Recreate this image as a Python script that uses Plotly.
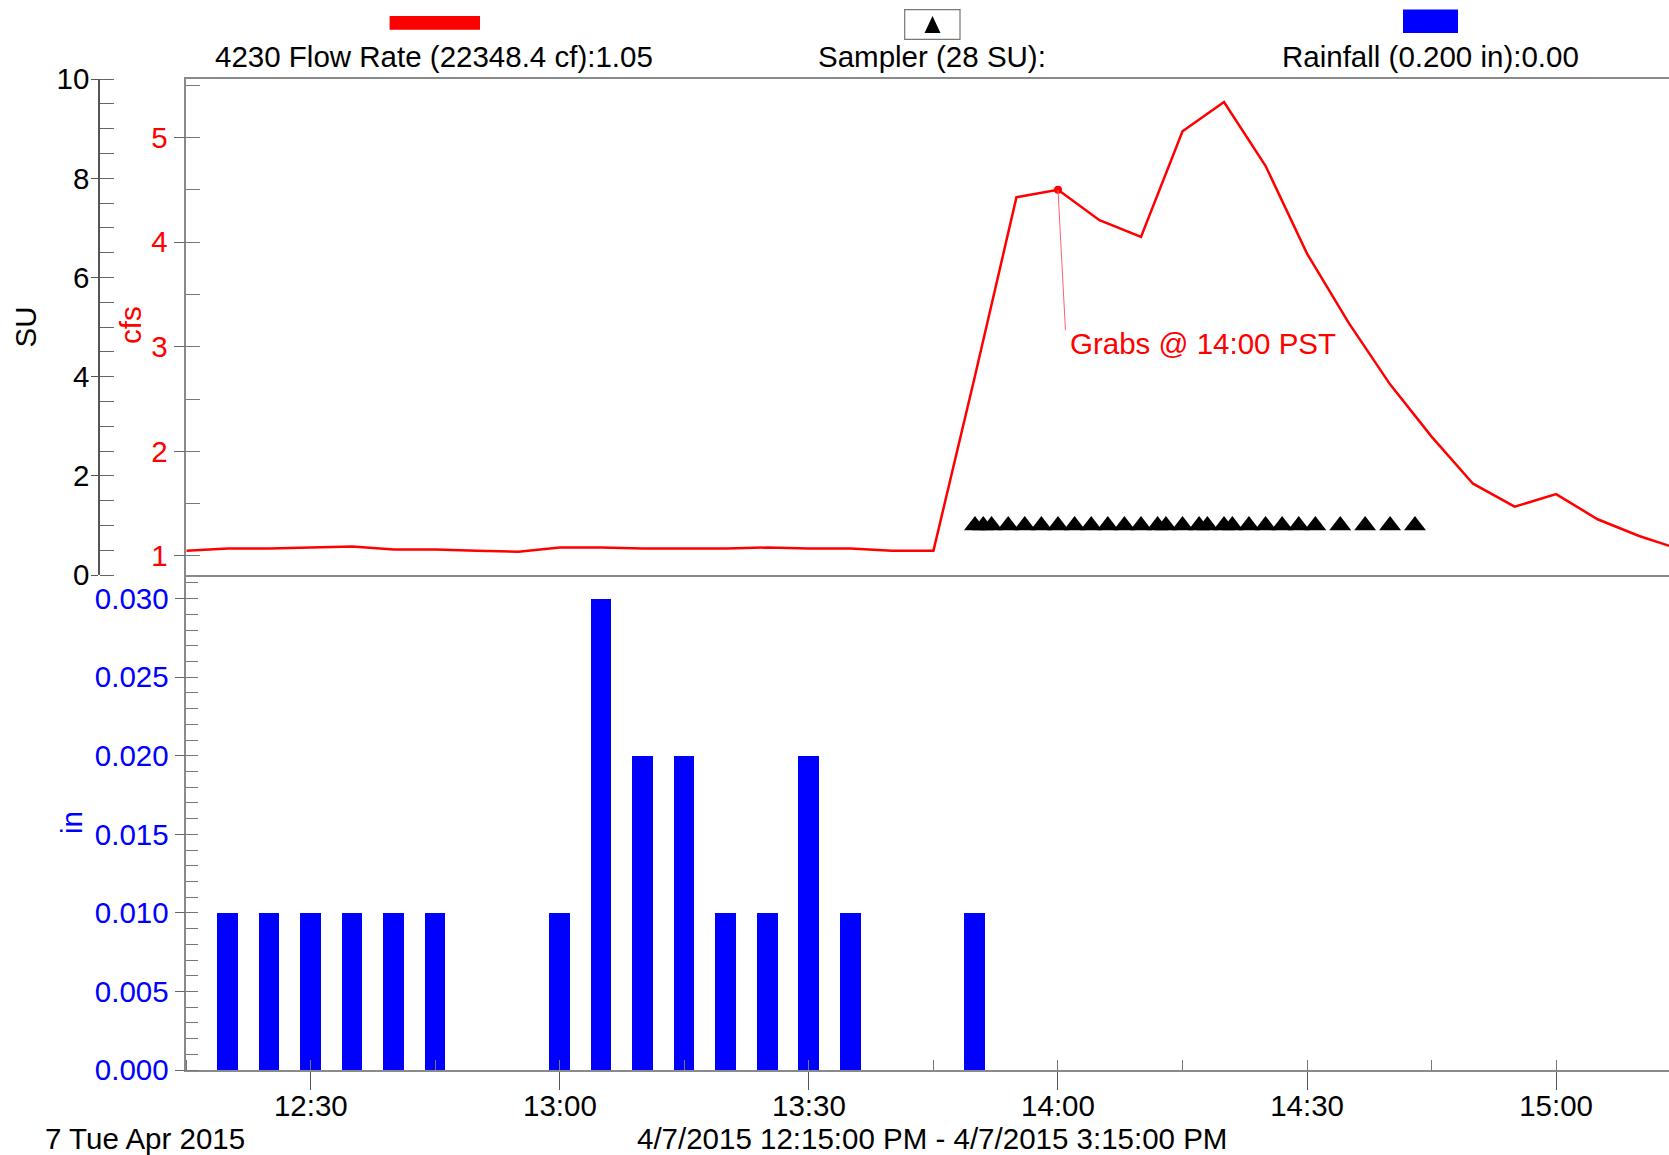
import plotly.graph_objects as go

W, H = 1669, 1155
DAY = "2015-04-07 "

# ---------------- data ----------------
flow_times = ["12:15", "12:20", "12:25", "12:30", "12:35", "12:40", "12:45", "12:50",
              "12:55", "13:00", "13:05", "13:10", "13:15", "13:20", "13:25", "13:30",
              "13:35", "13:40", "13:45", "13:50", "13:55", "14:00", "14:05", "14:10",
              "14:15", "14:20", "14:25", "14:30", "14:35", "14:40", "14:45", "14:50",
              "14:55", "15:00", "15:05", "15:10", "15:15"]
flow_cfs = [1.05, 1.07, 1.07, 1.08, 1.09, 1.06, 1.06, 1.05,
            1.04, 1.08, 1.08, 1.07, 1.07, 1.07, 1.08, 1.07,
            1.07, 1.05, 1.05, 2.72, 4.43, 4.50, 4.21, 4.05,
            5.06, 5.34, 4.73, 3.89, 3.23, 2.64, 2.14, 1.69,
            1.47, 1.59, 1.35, 1.19, 1.06]

rain_times = ["12:20", "12:25", "12:30", "12:35", "12:40", "12:45", "13:00", "13:05",
              "13:10", "13:15", "13:20", "13:25", "13:30", "13:35", "13:50"]
rain_in = [0.010, 0.010, 0.010, 0.010, 0.010, 0.010, 0.010, 0.030,
           0.020, 0.020, 0.010, 0.010, 0.020, 0.010, 0.010]

sampler_times = ["13:50", "13:51", "13:52", "13:54", "13:56", "13:58", "14:00", "14:02",
                 "14:04", "14:06", "14:08", "14:10", "14:12", "14:13", "14:15", "14:17",
                 "14:18", "14:20", "14:21", "14:23", "14:25", "14:27", "14:29", "14:31",
                 "14:34", "14:37", "14:40", "14:43"]
sampler_su = [1.0, 1.0, 1.0, 1.0, 1.0, 1.0, 1.0, 1.0, 1.0, 1.0, 1.0, 1.0, 1.0, 1.0,
              1.0, 1.0, 1.0, 1.0, 1.0, 1.0, 1.0, 1.0, 1.0, 1.0, 1.0, 1.0, 1.0, 1.0]

grab_time = "14:00"

x_tick_vals = ["12:30", "13:00", "13:30", "14:00", "14:30", "15:00"]
x_tick_text = ["12:30", "13:00", "13:30", "14:00", "14:30", "15:00"]
in_tick_vals = [0.000, 0.005, 0.010, 0.015, 0.020, 0.025, 0.030]
cfs_tick_vals = [1, 2, 3, 4, 5]
su_tick_vals = [0, 2, 4, 6, 8, 10]

# ---------------- helpers ----------------
def ts(t):
    return DAY + t + ":00"

def px(x):
    return x / W

def py(y):
    return 1 - y / H

FONT = "Liberation Sans, Arial, sans-serif"
FS = 29.5
RED = "#ff0000"
BLUE = "#0000ff"
FRAME = "#8a8a8a"

x_left = 186.3
x_dom = [px(x_left), 1.0]
y_bottom_dom = [py(1070), py(575)]
y_top_dom = [py(575), py(79)]
x_range = [ts("12:15"), DAY + "15:13:36"]
in_range = [0, 0.0315]
cfs_range = [0.817, 5.56]
su_range = [0, 10]

fig = go.Figure()

# rainfall bars (bottom panel)
fig.add_trace(go.Bar(
    x=[ts(t) for t in rain_times], y=rain_in, width=150000,
    marker=dict(color=BLUE, line=dict(width=0)),
    xaxis="x", yaxis="y", showlegend=False))

# flow line (top panel, cfs)
fig.add_trace(go.Scatter(
    x=[ts(t) for t in flow_times], y=flow_cfs, mode="lines",
    line=dict(color=RED, width=2.5),
    xaxis="x2", yaxis="y2", showlegend=False))

# grab point
gi = flow_times.index(grab_time)
fig.add_trace(go.Scatter(
    x=[ts(flow_times[gi])], y=[flow_cfs[gi]], mode="markers",
    marker=dict(color=RED, size=8),
    xaxis="x2", yaxis="y2", showlegend=False))

# sampler triangles (SU axis)
fig.add_trace(go.Scatter(
    x=[ts(t) for t in sampler_times], y=sampler_su, mode="markers",
    marker=dict(symbol="triangle-up", color="black", size=19, line=dict(width=0)),
    xaxis="x2", yaxis="y3", showlegend=False))

common_tick_font = dict(family=FONT, size=FS, color="black")

def inner_ticks(**kw):
    d = dict(showticklabels=False, ticks="inside", showline=False, showgrid=False,
             zeroline=False, automargin=False)
    d.update(kw)
    return d

fig.update_layout(
    width=W, height=H,
    template="none",
    margin=dict(l=0, r=0, t=0, b=0),
    paper_bgcolor="white", plot_bgcolor="white",
    font=dict(family=FONT, size=FS, color="black"),
    bargap=0,
    xaxis=dict(
        domain=x_dom, anchor="y", type="date", range=x_range,
        tickvals=[ts(t) for t in x_tick_vals], ticktext=x_tick_text,
        tickfont=common_tick_font,
        ticks="outside", ticklen=18, tickwidth=1, tickcolor="#555",
        ticklabelstandoff=-9,
        minor=dict(ticks="inside", dtick=900000, ticklen=10, tickcolor="#777",
                   tick0=ts("12:15")),
        showline=True, linecolor=FRAME, linewidth=2,
        showgrid=False, zeroline=False, automargin=False),
    xaxis2=dict(
        domain=x_dom, anchor="y2", type="date", range=x_range, matches="x",
        showticklabels=False, ticks="",
        showline=True, mirror=True, linecolor=FRAME, linewidth=2,
        showgrid=False, zeroline=False, automargin=False),
    xaxis3=inner_ticks(
        overlaying="x", anchor="y", type="date", range=x_range,
        tickvals=[ts(t) for t in x_tick_vals], ticklen=14, tickcolor="#555"),
    yaxis=dict(
        domain=y_bottom_dom, anchor="x", range=in_range,
        tickvals=in_tick_vals, tickformat=".3f",
        tickfont=dict(family=FONT, size=FS, color=BLUE),
        ticks="outside", ticklen=10, tickcolor="#666",
        minor=dict(ticks="inside", dtick=0.001, ticklen=12, tickcolor="#777"),
        showline=True, linecolor=FRAME, linewidth=1.5,
        showgrid=False, zeroline=False, automargin=False),
    yaxis2=dict(
        domain=y_top_dom, anchor="x2", range=cfs_range,
        tickvals=cfs_tick_vals,
        tickfont=dict(family=FONT, size=FS, color=RED),
        ticks="outside", ticklen=11, tickcolor="#666",
        minor=dict(ticks="inside", dtick=0.5, ticklen=14, tickcolor="#777"),
        showline=True, linecolor=FRAME, linewidth=1.5,
        showgrid=False, zeroline=False, automargin=False),
    yaxis3=dict(
        overlaying="y2", anchor="free", position=px(99), side="left",
        range=su_range, tickvals=su_tick_vals,
        tickfont=common_tick_font,
        ticks="outside", ticklen=7, tickcolor="#555",
        ticklabelstandoff=-4,
        minor=dict(ticks="inside", dtick=0.5, ticklen=14, tickcolor="#666"),
        showline=True, linecolor="#555", linewidth=1.5,
        showgrid=False, zeroline=False, automargin=False),
    yaxis4=inner_ticks(overlaying="y", anchor="x", range=in_range,
                       tickvals=in_tick_vals, ticklen=14, tickcolor="#666"),
    yaxis5=inner_ticks(overlaying="y2", anchor="x2", range=cfs_range,
                       tickvals=cfs_tick_vals, ticklen=14, tickcolor="#666"),
    yaxis6=inner_ticks(overlaying="y2", anchor="free", position=px(99), side="left",
                       range=su_range, tickvals=su_tick_vals, ticklen=14,
                       tickcolor="#555"),
)

shapes = []
annots = []

# axis titles
annots.append(dict(text="SU", x=px(24.5), y=py(327), textangle=-90,
                   font=dict(size=FS, color="black")))
annots.append(dict(text="cfs", x=px(130), y=py(325), textangle=-90,
                   font=dict(size=FS, color=RED)))
annots.append(dict(text="in", x=px(71), y=py(823), textangle=-90,
                   font=dict(size=FS, color=BLUE)))

# legend header
shapes.append(dict(type="rect", xref="paper", yref="paper",
                   x0=px(389.6), x1=px(480), y0=py(29.8), y1=py(16),
                   fillcolor=RED, line=dict(width=0)))
annots.append(dict(text="4230 Flow Rate (22348.4 cf):1.05", x=px(434), y=py(56.4),
                   font=dict(size=FS, color="black")))
shapes.append(dict(type="rect", xref="paper", yref="paper",
                   x0=px(904.7), x1=px(960), y0=py(39.4), y1=py(9.6),
                   fillcolor="white", line=dict(color="#777", width=1.2)))
shapes.append(dict(type="path", xref="paper", yref="paper",
                   path=f"M {px(924.5)},{py(33)} L {px(940.5)},{py(33)} L {px(932.5)},{py(16)} Z",
                   fillcolor="black", line=dict(width=0)))
annots.append(dict(text="Sampler (28 SU):", x=px(932.4), y=py(56.4),
                   font=dict(size=FS, color="black")))
shapes.append(dict(type="rect", xref="paper", yref="paper",
                   x0=px(1403), x1=px(1458), y0=py(33), y1=py(9.6),
                   fillcolor=BLUE, line=dict(width=0)))
annots.append(dict(text="Rainfall (0.200 in):0.00", x=px(1430.6), y=py(56.4),
                   font=dict(size=FS, color="black")))

# footer texts
annots.append(dict(text="7 Tue Apr 2015", x=px(42.6), y=py(1138), xanchor="left",
                   font=dict(size=FS, color="black")))
annots.append(dict(text="4/7/2015 12:15:00 PM - 4/7/2015 3:15:00 PM", x=px(932), y=py(1138),
                   font=dict(size=FS, color="black")))

# grab callout
shapes.append(dict(type="line", xref="x2", yref="y2",
                   x0=ts(flow_times[gi]), y0=flow_cfs[gi],
                   x1=DAY + "14:00:54", y1=3.158,
                   line=dict(color="#ff6070", width=1)))
annots.append(dict(text="Grabs @ 14:00 PST", x=px(1067.6), y=py(343.8), xanchor="left",
                   font=dict(size=FS, color=RED)))

for a in annots:
    a.setdefault("xref", "paper")
    a.setdefault("yref", "paper")
    a.setdefault("showarrow", False)
    a.setdefault("xanchor", "center")
    a.setdefault("yanchor", "middle")

fig.update_layout(shapes=shapes, annotations=annots)

fig.write_html(
    "out.html",
    config={"displayModeBar": False},
    post_script="document.body.style.margin='0';document.body.style.overflow='hidden';")
